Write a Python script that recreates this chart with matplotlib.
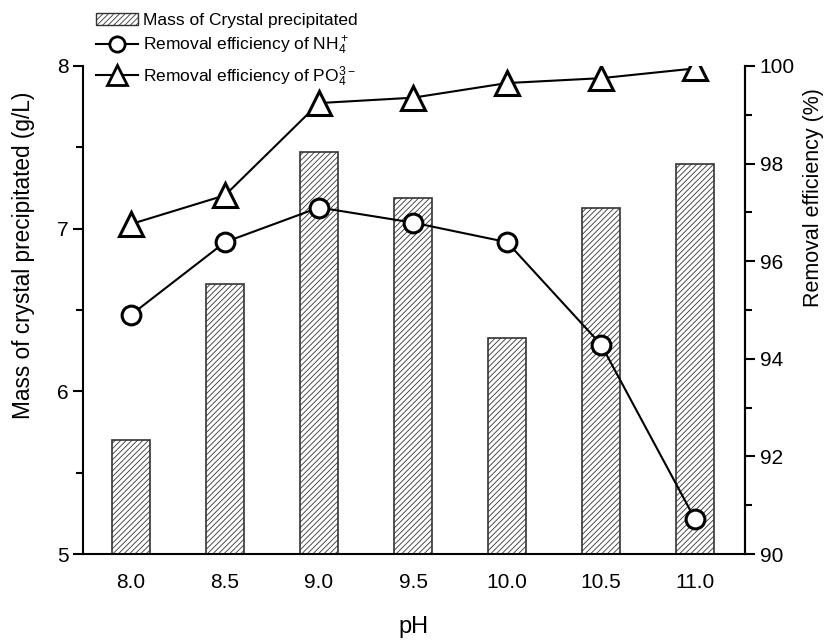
import matplotlib
matplotlib.use("Agg")
import matplotlib.pyplot as plt
from matplotlib.ticker import MultipleLocator
from matplotlib.patches import Patch
from matplotlib.lines import Line2D

plt.rcParams['font.family'] = ['Liberation Sans', 'DejaVu Sans']
plt.rcParams['mathtext.fontset'] = 'custom'
plt.rcParams['mathtext.rm'] = 'Liberation Sans'
plt.rcParams['mathtext.it'] = 'Liberation Sans'
plt.rcParams['hatch.linewidth'] = 0.6

# data
ph_labels = ['8.0', '8.5', '9.0', '9.5', '10.0', '10.5', '11.0']
crystal_mass = [5.70, 6.66, 7.47, 7.19, 6.33, 7.13, 7.40]
nh4_removal = [94.90, 96.39, 97.10, 96.79, 96.39, 94.29, 90.71]
po4_removal = [96.76, 97.35, 99.24, 99.35, 99.65, 99.75, 99.95]

x = list(range(len(ph_labels)))

fig = plt.figure(figsize=(8.27, 6.43), dpi=100)
ax = fig.add_axes([0.1004, 0.1384, 0.8004, 0.759])
ax2 = ax.twinx()

ax.bar(x, crystal_mass, width=0.4, bottom=0, color='white', edgecolor='#333333',
       linewidth=1.2, hatch='//////', zorder=2)
ax.set_ylim(5, 8)
ax.set_xlim(-0.51, 6.53)
ax.set_xticks(x)
ax.set_xticklabels(ph_labels)
ax.yaxis.set_major_locator(MultipleLocator(1))
ax.yaxis.set_minor_locator(MultipleLocator(0.5))

ax2.plot(x, nh4_removal, color='black', lw=1.5, marker='o', ms=13.5, mfc='white',
         mec='black', mew=2.2, zorder=3)
ax2.plot(x, po4_removal, color='black', lw=1.5, marker='^', ms=17, mfc='white',
         mec='black', mew=2.2, zorder=3)
ax2.set_ylim(90, 100)
ax2.yaxis.set_major_locator(MultipleLocator(2))
ax2.yaxis.set_minor_locator(MultipleLocator(1))

for a in (ax, ax2):
    a.spines['top'].set_visible(False)
    for s in a.spines.values():
        s.set_linewidth(1.5)
ax2.spines['left'].set_visible(False)
ax2.spines['bottom'].set_visible(False)

ax.tick_params(axis='y', which='major', direction='out', length=7, width=1.5, labelsize=15)
ax.tick_params(axis='y', which='minor', direction='out', length=5, width=1.5)
ax.tick_params(axis='x', length=0, labelsize=15, pad=14)
ax2.tick_params(axis='y', which='major', direction='out', length=7, width=1.5, labelsize=15)
ax2.tick_params(axis='y', which='minor', direction='out', length=5, width=1.5)

ax.set_xlabel('pH', fontsize=17, labelpad=17)
ax.set_ylabel('Mass of crystal precipitated (g/L)', fontsize=16.3, labelpad=16)
ax2.set_ylabel('Removal efficiency (%)', fontsize=15.5, labelpad=6)
# both axis titles sit above the middle of the axes in the reference
ax.yaxis.label.set_y(0.613)
ax2.yaxis.label.set_y(0.73)

handles = [
    Patch(facecolor='white', edgecolor='#333333', hatch='//////', linewidth=1.0),
    Line2D([], [], color='black', lw=1.5, marker='o', ms=11, mfc='white', mec='black', mew=2),
    Line2D([], [], color='black', lw=1.5, marker='^', ms=14, mfc='white', mec='black', mew=2),
]
labels = ['Mass of Crystal precipitated',
          r'Removal efficiency of NH$_4^+$',
          r'Removal efficiency of PO$_4^{3-}$']
fig.legend(handles, labels, loc='upper left', bbox_to_anchor=(0.108, 0.991),
           frameon=False, fontsize=12.5, handlelength=2.4, handletextpad=0.3,
           labelspacing=0.4, borderaxespad=0)

fig.savefig('out.png', dpi=100)
